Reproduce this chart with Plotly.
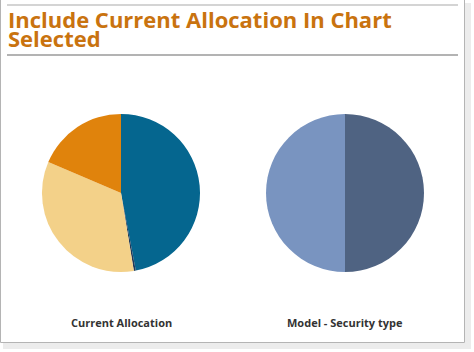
import plotly.graph_objects as go

W, H = 474, 352

title_lines = ["Include Current Allocation In Chart", "Selected"]

current_labels = ["Equity", "Other", "Fixed Income", "Cash"]
current_values = [47.0, 0.4, 34.0, 18.6]
current_colors = ["#05668f", "#1f3a5a", "#f3d189", "#e0830c"]

model_labels = ["Type A", "Type B"]
model_values = [50, 50]
model_colors = ["#4f6382", "#7994c0"]

chart_names = ["Current Allocation", "Model - Security type"]


def px_x(x):
    return x / W


def px_y(y):
    return 1 - y / H


fig = go.Figure()

fig.add_trace(go.Pie(
    labels=current_labels, values=current_values, sort=False,
    direction="clockwise", rotation=0,
    marker=dict(colors=current_colors, line=dict(width=0)),
    textinfo="none", hoverinfo="label+percent", showlegend=False,
    domain=dict(x=[px_x(42), px_x(200)], y=[px_y(272), px_y(114)]),
))
fig.add_trace(go.Pie(
    labels=model_labels, values=model_values, sort=False,
    direction="clockwise", rotation=0,
    marker=dict(colors=model_colors, line=dict(width=0)),
    textinfo="none", hoverinfo="label+percent", showlegend=False,
    domain=dict(x=[px_x(266), px_x(424)], y=[px_y(272), px_y(114)]),
))

shapes = [
    dict(type="rect", xref="paper", yref="paper", x0=px_x(465), x1=px_x(471),
         y0=px_y(349), y1=px_y(3), fillcolor="#ececec", line=dict(width=0), layer="below"),
    dict(type="rect", xref="paper", yref="paper", x0=px_x(3), x1=px_x(471),
         y0=px_y(349), y1=px_y(343), fillcolor="#ececec", line=dict(width=0), layer="below"),
    dict(type="rect", xref="paper", yref="paper", x0=px_x(0.5), x1=px_x(464.5),
         y0=px_y(342.5), y1=px_y(-1), line=dict(color="#b4b4b4", width=1),
         fillcolor="white", layer="below"),
    dict(type="line", xref="paper", yref="paper", x0=px_x(7), x1=px_x(458),
         y0=px_y(5), y1=px_y(5), line=dict(color="#d4d4d4", width=2)),
    dict(type="line", xref="paper", yref="paper", x0=px_x(7), x1=px_x(458),
         y0=px_y(55), y1=px_y(55), line=dict(color="#9a9a9a", width=1.5)),
]

title_font = dict(family="Open Sans, sans-serif", size=22, color="#c9730f")
annotations = [
    dict(text="<b>" + title_lines[0] + "</b>", xref="paper", yref="paper",
         x=px_x(6), y=px_y(19), xanchor="left", yanchor="middle", showarrow=False,
         height=18, font=title_font),
    dict(text="<b>" + title_lines[1] + "</b>", xref="paper", yref="paper",
         x=px_x(6), y=px_y(37.5), xanchor="left", yanchor="middle", showarrow=False,
         height=18, font=title_font),
    dict(text="<b>" + chart_names[0] + "</b>", xref="paper", yref="paper",
         x=px_x(121), y=px_y(322), xanchor="center", yanchor="middle", showarrow=False,
         font=dict(family="Open Sans, sans-serif", size=11, color="#333333")),
    dict(text="<b>" + chart_names[1] + "</b>", xref="paper", yref="paper",
         x=px_x(345), y=px_y(322), xanchor="center", yanchor="middle", showarrow=False,
         font=dict(family="Open Sans, sans-serif", size=11, color="#333333")),
]

fig.update_layout(
    width=W, height=H, autosize=False,
    margin=dict(l=0, r=0, t=0, b=0),
    paper_bgcolor="white", plot_bgcolor="white",
    shapes=shapes, annotations=annotations,
)

fig.write_html("out.html")
